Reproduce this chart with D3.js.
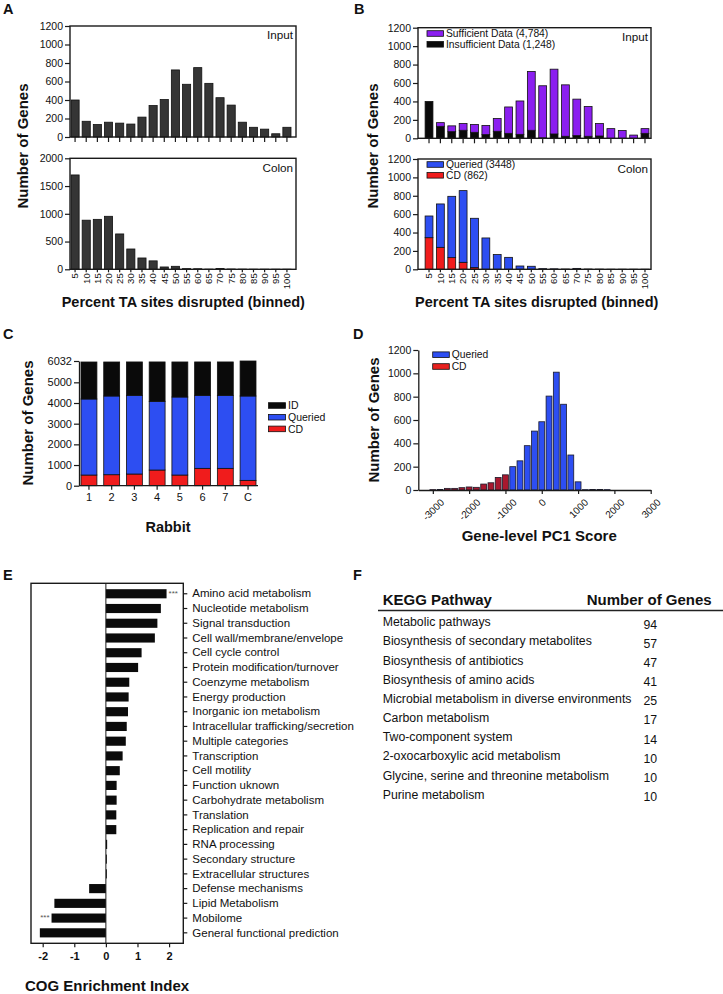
<!DOCTYPE html>
<html><head><meta charset="utf-8">
<script src="https://cdn.jsdelivr.net/npm/d3@7"></script>
<style>body{margin:0;background:#fff}svg{display:block}</style>
</head><body><svg id="c" width="723" height="994"></svg>
<script>
const FONT = '"Liberation Sans", Arial, Helvetica, sans-serif';

// ---------------- DATA ----------------
const binLabels = ["5","10","15","20","25","30","35","40","45","50","55","60","65","70","75","80","85","90","95","100"];
const inputGenes = [400,170,135,160,150,140,215,340,405,725,570,750,580,425,345,160,105,85,35,105];
const colonGenes = [1700,885,900,955,637,366,204,152,42,54,12,10,3,15,5,3,2,2,2,2];
const inputInsufficient = [400,130,72,87,65,40,76,54,43,87,5,47,22,29,22,25,0,0,0,54];
const inputSufficient = [0,40,63,73,85,100,139,286,362,638,565,703,558,396,323,135,105,85,35,51];
const colonCD = [344,239,127,76,18,0,0,0,0,0,0,0,0,0,0,0,0,0,0,0];
const colonQueried = [236,472,667,780,537,341,160,130,36,33,7,5,3,10,3,2,1,1,1,1];

const rabbits = ["1","2","3","4","5","6","7","C"];
const rabbitCD = [516,532,565,758,516,839,839,258];
const rabbitQueried = [3678,3807,3806,3323,3774,3532,3532,4081];
const rabbitID = [1790,1645,1615,1905,1695,1615,1615,1693];
const rabbitTicks = [0,1000,2000,3000,4000,5000,6032];

const pc1Bins = [-3000,-2800,-2600,-2400,-2200,-2000,-1800,-1600,-1400,-1200,-1000,-800,-600,-400,-200,0,200,400,600,800,1000,1200,1400,1600,1800];
const pc1Genes = [3,5,14,14,20,26,23,51,62,108,130,200,250,380,505,585,805,1010,735,300,70,3,5,5,3];
const pc1Group = ["CD","CD","CD","CD","CD","CD","CD","CD","CD","CD","CD","Queried","Queried","Queried","Queried","Queried","Queried","Queried","Queried","Queried","Queried","Queried","Queried","Queried","Queried"];
const pc1Ticks = [-3000,-2000,-1000,0,1000,2000,3000];

const cogCategories = ["Amino acid metabolism","Nucleotide metabolism","Signal transduction","Cell wall/membrane/envelope","Cell cycle control","Protein modification/turnover","Coenzyme metabolism","Energy production","Inorganic ion metabolism","Intracellular trafficking/secretion","Multiple categories","Transcription","Cell motility","Function uknown","Carbohydrate metabolism","Translation","Replication and repair","RNA processing","Secondary structure","Extracellular structures","Defense mechanisms","Lipid Metabolism","Mobilome","General functional prediction"];
const cogIndex = [1.92,1.74,1.63,1.55,1.13,1.02,0.74,0.72,0.70,0.66,0.63,0.53,0.44,0.34,0.34,0.33,0.33,0.04,0.03,0.03,-0.53,-1.63,-1.72,-2.09];
const cogSignificance = ["***","","","","","","","","","","","","","","","","","","","","","","***",""];
const cogTicks = [-2,-1,0,1,2];

const keggPathways = ["Metabolic pathways","Biosynthesis of secondary metabolites","Biosynthesis of antibiotics","Biosynthesis of amino acids","Microbial metabolism in diverse environments","Carbon metabolism","Two-component system","2-oxocarboxylic acid metabolism","Glycine, serine and threonine metabolism","Purine metabolism"];
const keggGenes = [94,57,47,41,25,17,14,10,10,10];

// ---------------- COLORS ----------------
const C_GRAY = "#353535", C_PURPLE = "#8b1ff0", C_BLACK = "#0a0a0a",
      C_BLUE = "#2d4ef2", C_RED = "#f01c1c", C_DRED = "#a8182e", AX = "#1a1a1a";

const svg = d3.select("#c");
const plain = d => String(d);
function txt(g, x, y, s, size, opts = {}) {
  return g.append("text").attr("x", x).attr("y", y).text(s)
    .attr("font-family", FONT).attr("font-size", size)
    .attr("font-weight", opts.bold ? "bold" : "normal")
    .attr("text-anchor", opts.anchor || "start").attr("fill", opts.fill || "#111");
}
function styleAxis(a, size, bold) {
  a.selectAll("line").attr("stroke", AX).attr("stroke-width", 1.2);
  a.selectAll("path.domain").attr("stroke", AX).attr("stroke-width", 1.3);
  a.selectAll("text").attr("font-family", FONT).attr("font-size", size).attr("fill", "#111")
    .attr("font-weight", bold ? "bold" : "normal");
}
function vLabel(x, y, s) {
  svg.append("text").attr("transform", `translate(${x},${y}) rotate(-90)`).attr("dy", "0.35em")
    .attr("text-anchor", "middle").attr("font-family", FONT).attr("font-size", 15)
    .attr("font-weight", "bold").attr("fill", "#111").text(s);
}

// generic stacked binned panel (A & B)
function binPanel(o) {
  const g = svg.append("g");
  const x = d3.scaleBand().domain(binLabels).range(o.xRange).paddingInner(o.pad).paddingOuter(0);
  const y = d3.scaleLinear().domain([0, o.yMax]).range([o.yBot, o.yTop]);
  const rows = binLabels.map((b, i) => { const r = { bin: b }; o.layers.forEach(l => r[l.key] = l.values[i]); return r; });
  const stacked = d3.stack().keys(o.layers.map(l => l.key))(rows);
  stacked.forEach((s, k) => {
    g.append("g").selectAll("rect").data(s).join("rect")
      .attr("x", d => x(d.data.bin)).attr("width", x.bandwidth())
      .attr("y", d => y(d[1])).attr("height", d => Math.max(0, y(d[0]) - y(d[1])))
      .attr("fill", o.layers[k].color).attr("stroke", "#111").attr("stroke-width", 0.8);
  });
  g.append("rect").attr("x", o.frame[0]).attr("y", o.yTop).attr("width", o.frame[1] - o.frame[0])
    .attr("height", o.yBot - o.yTop).attr("fill", "none").attr("stroke", AX).attr("stroke-width", 1.4);
  const ya = g.append("g").attr("transform", `translate(${o.frame[0]},0)`)
    .call(d3.axisLeft(y).tickValues(d3.range(0, o.yMax + 1, o.yStep)).tickSize(5).tickPadding(2).tickFormat(plain));
  ya.select(".domain").remove();
  styleAxis(ya, 10.5);
  const xa = g.append("g").attr("transform", `translate(0,${o.yBot})`)
    .call(d3.axisBottom(x).tickSize(o.labels ? 3 : 5).tickSizeOuter(0));
  xa.select(".domain").remove();
  styleAxis(xa, 9.5);
  if (o.labels) {
    xa.selectAll("text").attr("transform", "rotate(-90)").attr("text-anchor", "end")
      .attr("x", -4).attr("y", 0).attr("dy", "0.35em");
  } else xa.selectAll("text").remove();
  txt(g, o.frame[1] - 3, o.tagY, o.tag, 11.7, { anchor: "end" });
  if (o.legend) {
    o.legend.forEach((l, i) => {
      const yy = o.legY + i * 10.8;
      g.append("rect").attr("x", o.frame[0] + 9).attr("y", yy - 2.8).attr("width", 16.5).attr("height", 5.6)
        .attr("fill", l.color).attr("stroke", "#111").attr("stroke-width", 0.8);
      txt(g, o.frame[0] + 28, yy + 3.7, l.text, 10.3);
    });
  }
}

// ---------- Panel A ----------
txt(svg, 3, 13.5, "A", 14.5, { bold: true });
binPanel({ xRange: [71, 291], pad: 0.27, frame: [70, 296], yTop: 26, yBot: 137, yMax: 1200, yStep: 200,
  layers: [{ key: "v", values: inputGenes, color: C_GRAY }], tag: "Input", tagY: 39, labels: false });
binPanel({ xRange: [71, 291], pad: 0.27, frame: [70, 296], yTop: 158.3, yBot: 269.3, yMax: 2000, yStep: 500,
  layers: [{ key: "v", values: colonGenes, color: C_GRAY }], tag: "Colon", tagY: 171.5, labels: true });
vLabel(22.5, 146, "Number of Genes");
txt(svg, 183.3, 306.5, "Percent TA sites disrupted (binned)", 14.5, { bold: true, anchor: "middle" });

// ---------- Panel B ----------
txt(svg, 354, 13.5, "B", 14.5, { bold: true });
binPanel({ xRange: [425.1, 648.9], pad: 0.31, frame: [418, 651], yTop: 27.7, yBot: 138.3, yMax: 1200, yStep: 200,
  layers: [{ key: "ins", values: inputInsufficient, color: C_BLACK }, { key: "suf", values: inputSufficient, color: C_PURPLE }],
  tag: "Input", tagY: 41, labels: false, legY: 33.5,
  legend: [{ text: "Sufficient Data (4,784)", color: C_PURPLE }, { text: "Insufficient Data (1,248)", color: C_BLACK }] });
binPanel({ xRange: [425.1, 648.9], pad: 0.31, frame: [418, 651], yTop: 159, yBot: 269.3, yMax: 1200, yStep: 200,
  layers: [{ key: "cd", values: colonCD, color: C_RED }, { key: "q", values: colonQueried, color: C_BLUE }],
  tag: "Colon", tagY: 173, labels: true, legY: 164.5,
  legend: [{ text: "Queried (3448)", color: C_BLUE }, { text: "CD (862)", color: C_RED }] });
vLabel(373, 146, "Number of Genes");
txt(svg, 536.7, 306.5, "Percent TA sites disrupted (binned)", 14.5, { bold: true, anchor: "middle" });

// ---------- Panel C ----------
txt(svg, 3, 339.3, "C", 14.5, { bold: true });
{
  const g = svg.append("g");
  const x = d3.scaleBand().domain(rabbits).range([81, 256]).paddingInner(0.3).paddingOuter(0);
  const y = d3.scaleLinear().domain([0, 6032]).range([485.7, 361]);
  const rows = rabbits.map((r, i) => ({ r, CD: rabbitCD[i], Queried: rabbitQueried[i], ID: rabbitID[i] }));
  const keys = ["CD", "Queried", "ID"], cols = { CD: C_RED, Queried: C_BLUE, ID: C_BLACK };
  d3.stack().keys(keys)(rows).forEach(s => {
    g.append("g").selectAll("rect").data(s).join("rect")
      .attr("x", d => x(d.data.r)).attr("width", x.bandwidth())
      .attr("y", d => y(d[1])).attr("height", d => y(d[0]) - y(d[1]))
      .attr("fill", cols[s.key]).attr("stroke", "#111").attr("stroke-width", 0.8);
  });
  const ya = g.append("g").attr("transform", "translate(79,0)")
    .call(d3.axisLeft(y).tickValues(rabbitTicks).tickSize(5).tickPadding(2).tickSizeOuter(0).tickFormat(plain));
  styleAxis(ya, 11);
  const xa = g.append("g").attr("transform", "translate(0,485.7)")
    .call(d3.axisBottom(x).tickSize(4).tickPadding(4).tickSizeOuter(0));
  xa.select(".domain").remove();
  styleAxis(xa, 11);
  g.append("line").attr("x1", 79).attr("x2", 258).attr("y1", 485.7).attr("y2", 485.7).attr("stroke", AX).attr("stroke-width", 1.3);
  const leg = [["ID", C_BLACK], ["Queried", C_BLUE], ["CD", C_RED]];
  leg.forEach((l, i) => {
    const yy = 405.5 + i * 11.7;
    g.append("rect").attr("x", 268.5).attr("y", yy - 2.8).attr("width", 17).attr("height", 5.6)
      .attr("fill", l[1]).attr("stroke", "#111").attr("stroke-width", 0.8);
    txt(g, 288, yy + 3.8, l[0], 10.5);
  });
  vLabel(27.5, 423, "Number of Genes");
  txt(svg, 168, 531.7, "Rabbit", 14.5, { bold: true, anchor: "middle" });
}

// ---------- Panel D ----------
txt(svg, 353, 339.3, "D", 14.5, { bold: true });
{
  const g = svg.append("g");
  const x = d3.scaleLinear().domain([-3400, 3000]).range([418.3, 650.7]);
  const y = d3.scaleLinear().domain([0, 1200]).range([490, 350]);
  const rows = pc1Bins.map((b, i) => ({ b, v: pc1Genes[i], grp: pc1Group[i] }));
  g.selectAll("rect.bar").data(rows).join("rect").attr("class", "bar")
    .attr("x", d => x(d.b - 100) + 0.7).attr("width", d => x(d.b + 100) - x(d.b - 100) - 1.4)
    .attr("y", d => y(d.v)).attr("height", d => y(0) - y(d.v))
    .attr("fill", d => d.grp === "CD" ? C_DRED : C_BLUE).attr("stroke", "#1a1a2a").attr("stroke-width", 0.8);
  const ya = g.append("g").attr("transform", "translate(418.3,0)")
    .call(d3.axisLeft(y).tickValues(d3.range(0, 1201, 200)).tickSize(5).tickPadding(2).tickSizeOuter(0).tickFormat(plain));
  styleAxis(ya, 10.5);
  const xa = g.append("g").attr("transform", "translate(0,490)")
    .call(d3.axisBottom(x).tickValues(pc1Ticks).tickSize(4).tickSizeOuter(0).tickFormat(plain));
  styleAxis(xa, 10);
  xa.selectAll("text").each(function () {
    const L = this.getComputedTextLength();
    d3.select(this).attr("x", 0).attr("y", 0).attr("dy", "0.35em").attr("text-anchor", "middle")
      .attr("transform", `translate(0,${8 + (L + 7.5) * 0.3535}) rotate(-45)`);
  });
  [["Queried", C_BLUE], ["CD", "#e8211e"]].forEach((l, i) => {
    const yy = 354.7 + i * 11.8;
    g.append("rect").attr("x", 432.7).attr("y", yy - 2.8).attr("width", 16.6).attr("height", 5.6)
      .attr("fill", l[1]).attr("stroke", "#111").attr("stroke-width", 0.8);
    txt(g, 451.7, yy + 3.7, l[0], 10.3);
  });
  vLabel(374, 420, "Number of Genes");
  txt(svg, 539.2, 540.5, "Gene-level PC1 Score", 15, { bold: true, anchor: "middle" });
}

// ---------- Panel E ----------
txt(svg, 3, 580, "E", 14.5, { bold: true });
{
  const g = svg.append("g");
  const x = d3.scaleLinear().domain([-2.37, 2.45]).range([31, 183.3]);
  const y = d3.scaleBand().domain(cogCategories).range([583.3, 943.3]).paddingInner(0.38).paddingOuter(0.4);
  const rows = cogCategories.map((c, i) => ({ c, v: cogIndex[i], s: cogSignificance[i] }));
  g.selectAll("rect.bar").data(rows).join("rect").attr("class", "bar")
    .attr("x", d => x(Math.min(0, d.v))).attr("width", d => Math.abs(x(d.v) - x(0)))
    .attr("y", d => y(d.c)).attr("height", y.bandwidth()).attr("fill", "#0b0b0b");
  g.selectAll("text.sig").data(rows.filter(d => d.s)).join("text").attr("class", "sig")
    .attr("x", d => d.v > 0 ? x(d.v) + 2 : x(d.v) - 2).attr("y", d => y(d.c) + y.bandwidth() / 2 + 2)
    .attr("text-anchor", d => d.v > 0 ? "start" : "end").attr("font-family", FONT).attr("font-size", 8)
    .attr("fill", "#555").text(d => d.s);
  g.append("line").attr("x1", x(0)).attr("x2", x(0)).attr("y1", 583.3).attr("y2", 943.3).attr("stroke", AX).attr("stroke-width", 1);
  g.append("rect").attr("x", 31).attr("y", 583.3).attr("width", 152.3).attr("height", 360)
    .attr("fill", "none").attr("stroke", AX).attr("stroke-width", 1.4);
  const ra = g.append("g").attr("transform", "translate(183.3,0)")
    .call(d3.axisRight(y).tickSize(4).tickPadding(5).tickSizeOuter(0));
  ra.select(".domain").remove();
  styleAxis(ra, 11.5);
  const xa = g.append("g").attr("transform", "translate(0,943.3)")
    .call(d3.axisBottom(x).tickValues(cogTicks).tickSize(4).tickPadding(5).tickSizeOuter(0).tickFormat(plain));
  xa.select(".domain").remove();
  styleAxis(xa, 11, true);
  txt(svg, 107, 991, "COG Enrichment Index", 15, { bold: true, anchor: "middle" });
}

// ---------- Panel F ----------
txt(svg, 353, 580, "F", 14.5, { bold: true });
{
  const g = svg.append("g");
  txt(g, 382.7, 605, "KEGG Pathway", 15, { bold: true });
  txt(g, 586.7, 605, "Number of Genes", 15, { bold: true });
  g.append("line").attr("x1", 378).attr("x2", 723).attr("y1", 610.5).attr("y2", 610.5).attr("stroke", "#222").attr("stroke-width", 1.3);
  const ry = d3.scalePoint().domain(keggPathways).range([626.3, 626.3 + 9 * 19.15]);
  g.selectAll("text.path").data(keggPathways).join("text").attr("class", "path")
    .attr("x", 382.7).attr("y", d => ry(d)).attr("font-family", FONT).attr("font-size", 12.3).attr("fill", "#111").text(d => d);
  g.selectAll("text.num").data(keggPathways.map((p, i) => ({ p, n: keggGenes[i] }))).join("text").attr("class", "num")
    .attr("x", 643.5).attr("y", d => ry(d.p) + 2.3).attr("font-family", FONT).attr("font-size", 12.3).attr("fill", "#111").text(d => d.n);
}
</script></body></html>
